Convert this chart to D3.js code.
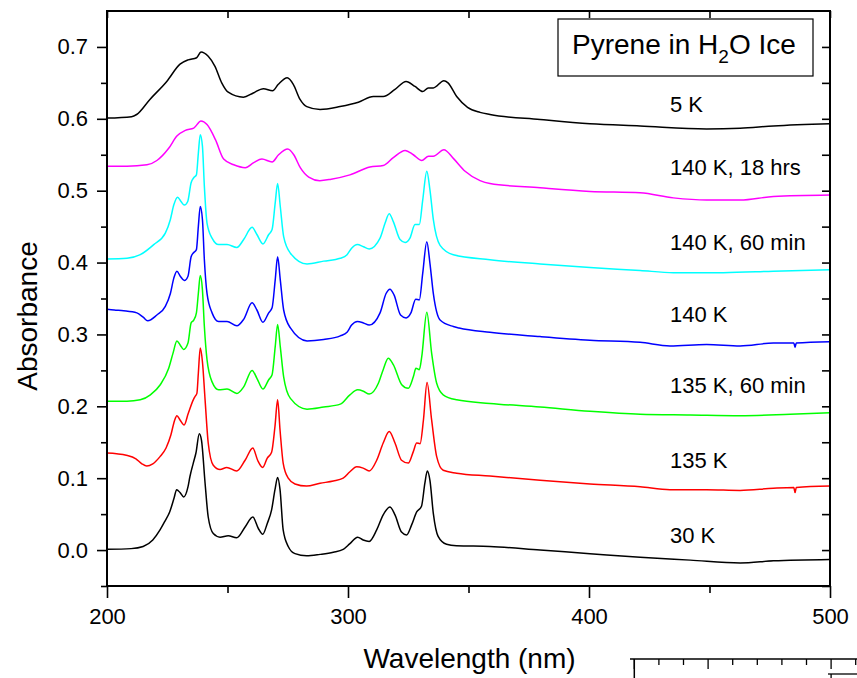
<!DOCTYPE html>
<html>
<head>
<meta charset="utf-8">
<script src="https://cdn.jsdelivr.net/npm/d3@7"></script>
<style>
  html, body { margin: 0; padding: 0; background: #fff; }
  svg { display: block; }
  text { font-family: "Liberation Sans", Arial, Helvetica, sans-serif; fill: #000; }
</style>
</head>
<body>
<svg id="chart" width="857" height="678"></svg>
<script>
// Absorbance spectra of pyrene in H2O ice, offset for clarity: [wavelength nm, absorbance]
const spec30K = [[200,0.001],[210,0.002],[215,0.005],[219,0.014],[222,0.028],[224,0.040],[226,0.053],[227.8,0.072],[228.9,0.084],[230.3,0.080],[231.8,0.074],[233.6,0.088],[234.4,0.102],[235.8,0.121],[236.9,0.135],[238.3,0.162],[239.2,0.153],[240.7,0.093],[242,0.046],[244.1,0.023],[246.9,0.018],[250.3,0.020],[253.8,0.017],[257.3,0.032],[260.5,0.046],[262.8,0.030],[264.6,0.022],[266.5,0.037],[268.3,0.056],[269.7,0.084],[270.8,0.101],[271.8,0.084],[273.1,0.028],[275.2,0.005],[278,-0.005],[282.8,-0.008],[288.4,-0.006],[293.9,-0.003],[298,0.001],[300.8,0.009],[304,0.018],[306.3,0.014],[308.8,0.012],[311.9,0.028],[314.6,0.049],[317.4,0.060],[319.5,0.049],[322.2,0.025],[324.3,0.021],[326.4,0.035],[328.5,0.053],[330.5,0.061],[331.9,0.093],[332.9,0.110],[334,0.097],[335.4,0.051],[337.4,0.019],[340.9,0.008],[345,0.006],[358.9,0.005],[379.7,0.000],[400.4,-0.005],[421.2,-0.010],[442,-0.014],[462.7,-0.018],[476.5,-0.015],[500,-0.013]];

const spec135K = [[200,0.135],[204,0.134],[208,0.132],[212,0.127],[214.5,0.120],[216.5,0.117],[219,0.120],[222,0.130],[224.5,0.142],[226.5,0.160],[228,0.180],[229,0.187],[230.3,0.181],[232,0.174],[233.7,0.190],[235.8,0.209],[236.6,0.214],[237.3,0.218],[237.9,0.246],[238.7,0.281],[239.6,0.262],[240.7,0.209],[242,0.149],[244.1,0.118],[246.9,0.112],[249.7,0.115],[253.8,0.110],[257.3,0.125],[260.5,0.142],[262.5,0.125],[264.6,0.115],[266.5,0.128],[268.3,0.136],[269.7,0.172],[270.8,0.209],[271.8,0.167],[273.1,0.121],[275.2,0.100],[278,0.092],[282.8,0.089],[288.4,0.093],[293.9,0.096],[298,0.100],[300.8,0.109],[303.6,0.116],[306.3,0.114],[308.8,0.110],[311.9,0.125],[314.6,0.149],[317.1,0.165],[319.5,0.149],[322.2,0.125],[325,0.121],[327.1,0.137],[328.5,0.149],[329.9,0.148],[331.3,0.181],[332.8,0.233],[334.7,0.181],[336.8,0.130],[339.5,0.111],[345.1,0.107],[358.9,0.103],[379.7,0.097],[400.4,0.092],[421.2,0.088],[433.6,0.084],[448.8,0.084],[462.7,0.083],[476.5,0.086],[485,0.087],[485.5,0.080],[486,0.087],[500,0.089]];

const spec135K60 = [[200,0.207],[208.3,0.207],[213.8,0.209],[218,0.216],[222.1,0.230],[225.6,0.253],[227.4,0.274],[229,0.291],[230.4,0.285],[231.8,0.279],[233.6,0.288],[234.9,0.316],[236,0.320],[237.1,0.330],[237.9,0.357],[238.7,0.382],[239.6,0.362],[240.4,0.311],[241.5,0.265],[243.6,0.234],[246.3,0.223],[249.8,0.224],[253.9,0.218],[256.7,0.227],[260.2,0.250],[262.2,0.239],[264.7,0.224],[267.1,0.237],[268.5,0.244],[269.8,0.283],[270.8,0.314],[271.9,0.283],[273.3,0.241],[276.1,0.211],[283,0.196],[289.9,0.199],[296.8,0.203],[300.8,0.216],[304,0.223],[306.4,0.221],[308.8,0.217],[312.6,0.232],[314.6,0.251],[316.7,0.267],[318.8,0.258],[322.3,0.230],[325,0.225],[327.1,0.241],[328.2,0.253],[329.6,0.251],[330.6,0.269],[332.7,0.331],[334.7,0.274],[336.8,0.232],[339.5,0.216],[345.1,0.209],[358.9,0.204],[379.7,0.199],[400.4,0.193],[421.2,0.189],[442,0.188],[462.7,0.187],[483.5,0.189],[500,0.191]];

const spec140K = [[200,0.335],[203,0.334],[206.9,0.333],[212.4,0.330],[215,0.324],[216.9,0.319],[220.7,0.327],[224.2,0.339],[226.3,0.357],[227.7,0.378],[229,0.388],[230.4,0.381],[232.1,0.375],[233.6,0.381],[234.9,0.408],[236,0.414],[237.1,0.418],[237.9,0.450],[238.7,0.478],[239.6,0.460],[240.4,0.404],[241.5,0.357],[243.6,0.330],[246.3,0.318],[249.8,0.318],[253.9,0.312],[256.7,0.321],[260.2,0.344],[262.2,0.334],[264.7,0.317],[267.1,0.330],[268.5,0.337],[269.8,0.376],[270.8,0.408],[271.9,0.376],[273.3,0.334],[276.1,0.309],[283,0.291],[289.9,0.293],[296.8,0.298],[299.6,0.303],[301.5,0.313],[303.9,0.318],[306.4,0.316],[308.8,0.313],[313.3,0.330],[315.8,0.357],[317.4,0.363],[319.1,0.355],[321.8,0.327],[324.1,0.323],[326.1,0.330],[328.1,0.349],[329.6,0.348],[331,0.385],[332.7,0.429],[334,0.399],[335.4,0.357],[338.2,0.320],[343.7,0.311],[346.1,0.309],[358.9,0.303],[379.7,0.297],[400.4,0.292],[421.2,0.289],[433.6,0.284],[448.8,0.286],[462.7,0.284],[476.5,0.288],[485,0.288],[485.5,0.282],[486,0.288],[500,0.290]];

const spec140K60 = [[200,0.405],[208.3,0.406],[213.8,0.411],[219.4,0.425],[224.2,0.441],[226.3,0.460],[227.7,0.480],[229.3,0.491],[230.7,0.485],[232.1,0.480],[233.5,0.485],[234.9,0.511],[236,0.518],[237.1,0.522],[237.9,0.552],[238.7,0.578],[239.6,0.562],[240.4,0.506],[241.5,0.455],[243.6,0.434],[246.3,0.425],[249.8,0.425],[253.9,0.421],[256.7,0.432],[260.2,0.449],[262.2,0.439],[264.7,0.426],[267.1,0.439],[268.5,0.446],[269.8,0.483],[270.8,0.510],[271.9,0.478],[273.3,0.436],[276.1,0.413],[283,0.398],[289.9,0.402],[296.8,0.406],[299.6,0.411],[301.5,0.420],[303.9,0.425],[306.4,0.422],[308.8,0.419],[313.3,0.434],[315.4,0.455],[317.1,0.468],[318.8,0.457],[321.6,0.432],[323.7,0.428],[325.7,0.434],[327.8,0.453],[329.6,0.453],[331,0.487],[332.7,0.527],[334,0.501],[335.4,0.460],[338.2,0.424],[343.7,0.411],[358.9,0.404],[379.7,0.398],[400.4,0.393],[421.2,0.389],[435,0.386],[455.7,0.386],[476.5,0.388],[500,0.390]];

const spec140K18h = [[200,0.534],[208.3,0.534],[216.6,0.536],[220.7,0.542],[225.6,0.559],[229,0.576],[232.5,0.584],[236,0.587],[239,0.597],[241.5,0.592],[245,0.571],[248.4,0.544],[252.6,0.536],[257.4,0.532],[260.9,0.539],[264.3,0.544],[268.5,0.540],[271.2,0.550],[275,0.558],[277.5,0.550],[280.2,0.532],[283.7,0.519],[288.3,0.514],[293,0.516],[300.8,0.522],[309.1,0.533],[314.6,0.535],[318.8,0.546],[323.7,0.556],[327.1,0.550],[330.6,0.542],[333.4,0.548],[335.4,0.548],[339.8,0.557],[343.7,0.545],[348.6,0.527],[354.8,0.514],[358.9,0.510],[379.7,0.504],[400.4,0.499],[421.2,0.497],[435,0.490],[448.8,0.487],[462.7,0.487],[476.5,0.492],[500,0.494]];

const spec5K = [[200,0.601],[210.2,0.603],[212.3,0.606],[217.8,0.627],[224.8,0.652],[230.3,0.676],[233.7,0.682],[237.2,0.685],[239,0.693],[242,0.687],[244.8,0.673],[247.6,0.650],[250.3,0.637],[256.6,0.630],[260.7,0.636],[264.9,0.642],[268.7,0.639],[271.1,0.648],[274.8,0.657],[277.3,0.648],[280.1,0.627],[282.9,0.617],[288.4,0.613],[296.7,0.617],[304.3,0.623],[310.5,0.631],[314.6,0.631],[319.5,0.641],[324.1,0.652],[327.8,0.645],[331,0.638],[333.3,0.643],[335.4,0.643],[339.8,0.653],[341.5,0.650],[345.1,0.631],[349.6,0.616],[354.8,0.609],[358.9,0.606],[379.7,0.599],[400.4,0.593],[421.2,0.590],[448.8,0.586],[462.7,0.587],[476.5,0.590],[500,0.593]];

// Series order, labels and label anchor (wavelength, absorbance of text baseline)
const seriesNames  = ["5 K", "140 K, 18 hrs", "140 K, 60 min", "140 K", "135 K, 60 min", "135 K", "30 K"];
const seriesData   = [spec5K, spec140K18h, spec140K60, spec140K, spec135K60, spec135K, spec30K];
const seriesColors = ["#000000", "#ff00ff", "#00ffff", "#0000ff", "#00ff00", "#ff0000", "#000000"];
const labelX       = 433.6;
const labelY       = [0.609, 0.522, 0.418, 0.317, 0.219, 0.114, 0.010];

// Axis ticks
const xMajorTicks = [200, 300, 400, 500];
const xMinorTicks = [250, 350, 450];
const yMajorTicks = [0.0, 0.1, 0.2, 0.3, 0.4, 0.5, 0.6, 0.7];
const yMinorTicks = [-0.05, 0.05, 0.15, 0.25, 0.35, 0.45, 0.55, 0.65];

const svg = d3.select("#chart");
const plot = { left: 107, right: 830, top: 11, bottom: 586 };

const x = d3.scaleLinear().domain([200, 500]).range([plot.left, plot.right]);
const y = d3.scaleLinear().domain([-0.05, 0.75]).range([plot.bottom, plot.top]);

svg.append("defs").append("clipPath").attr("id", "plotClip")
  .append("rect")
  .attr("x", plot.left).attr("y", plot.top)
  .attr("width", plot.right - plot.left).attr("height", plot.bottom - plot.top);

// Spectra
const line = d3.line()
  .x(d => x(d[0]))
  .y(d => y(d[1]))
  .curve(d3.curveMonotoneX);

const traces = svg.append("g").attr("clip-path", "url(#plotClip)");
seriesData.forEach((s, i) => {
  traces.append("path")
    .datum(s)
    .attr("fill", "none")
    .attr("stroke", seriesColors[i])
    .attr("stroke-width", 1.5)
    .attr("stroke-linejoin", "round")
    .attr("d", line);
});

// Series labels
seriesNames.forEach((name, i) => {
  svg.append("text")
    .attr("x", x(labelX))
    .attr("y", y(labelY[i]))
    .attr("font-size", 22)
    .text(name);
});

// Axes
function styleAxis(g) {
  g.select(".domain").remove();
  g.selectAll(".tick line").attr("stroke", "#000").attr("stroke-width", 1.6);
  g.selectAll(".tick text").attr("font-size", 22).attr("fill", "#000")
    .attr("font-family", "\"Liberation Sans\", Arial, sans-serif");
}

svg.append("g").attr("transform", `translate(0,${plot.bottom})`)
  .call(d3.axisBottom(x).tickValues(xMajorTicks).tickSize(12).tickPadding(10).tickFormat(d3.format("d")))
  .call(styleAxis);
svg.append("g").attr("transform", `translate(0,${plot.bottom})`)
  .call(d3.axisBottom(x).tickValues(xMinorTicks).tickSize(7).tickFormat(""))
  .call(styleAxis);
svg.append("g").attr("transform", `translate(0,${plot.top})`)
  .call(d3.axisBottom(x).tickValues(xMajorTicks.concat(xMinorTicks)).tickSize(7).tickFormat(""))
  .call(styleAxis);

svg.append("g").attr("transform", `translate(${plot.left},0)`)
  .call(d3.axisLeft(y).tickValues(yMajorTicks).tickSize(10).tickPadding(9).tickFormat(d3.format(".1f")))
  .call(styleAxis);
svg.append("g").attr("transform", `translate(${plot.left},0)`)
  .call(d3.axisLeft(y).tickValues(yMinorTicks).tickSize(6).tickFormat(""))
  .call(styleAxis);
svg.append("g").attr("transform", `translate(${plot.right},0)`)
  .call(d3.axisRight(y).tickValues(yMajorTicks.concat(yMinorTicks)).tickSize(-8).tickFormat(""))
  .call(styleAxis);

// Frame
svg.append("rect")
  .attr("x", plot.left).attr("y", plot.top)
  .attr("width", plot.right - plot.left).attr("height", plot.bottom - plot.top)
  .attr("fill", "none").attr("stroke", "#000").attr("stroke-width", 2);

// Axis titles
svg.append("text")
  .attr("x", (plot.left + plot.right) / 2 + 1)
  .attr("y", 668)
  .attr("text-anchor", "middle")
  .attr("font-size", 28)
  .text("Wavelength (nm)");

svg.append("text")
  .attr("transform", "translate(37,316) rotate(-90)")
  .attr("text-anchor", "middle")
  .attr("font-size", 28)
  .text("Absorbance");

// Title box
svg.append("rect")
  .attr("x", 558).attr("y", 19).attr("width", 255).attr("height", 57)
  .attr("fill", "#fff").attr("stroke", "#000").attr("stroke-width", 1.2);
const title = svg.append("text").attr("x", 572).attr("y", 54).attr("font-size", 28);
title.append("tspan").text("Pyrene in H");
title.append("tspan").attr("font-size", 19).attr("dy", 9).text("2");
title.append("tspan").attr("dy", -9).text("O Ice");

// Edge of the neighbouring panel below
const nx = d3.scaleLinear().domain([0, 9]).range([634.3, 855.7]);
const nTicks = d3.range(0, 10);
const nMajor = [0, 3, 8];
const nb = svg.append("g");
nb.append("line").attr("x1", 630).attr("x2", 857).attr("y1", 659).attr("y2", 659)
  .attr("stroke", "#000").attr("stroke-width", 1.5);
nb.append("line").attr("x1", nx(0)).attr("x2", nx(0)).attr("y1", 659).attr("y2", 678)
  .attr("stroke", "#000").attr("stroke-width", 1.5);
nb.selectAll("line.nt").data(nTicks).join("line").attr("class", "nt")
  .attr("x1", d => nx(d)).attr("x2", d => nx(d))
  .attr("y1", 659).attr("y2", d => nMajor.includes(d) ? 669 : 665)
  .attr("stroke", "#000").attr("stroke-width", 1.3);
nb.append("line").attr("x1", 828).attr("x2", 857).attr("y1", 674).attr("y2", 674)
  .attr("stroke", "#000").attr("stroke-width", 1.3);
nb.append("line").attr("x1", nx(8)).attr("x2", nx(8)).attr("y1", 674).attr("y2", 678)
  .attr("stroke", "#000").attr("stroke-width", 1.3);
</script>
</body>
</html>
